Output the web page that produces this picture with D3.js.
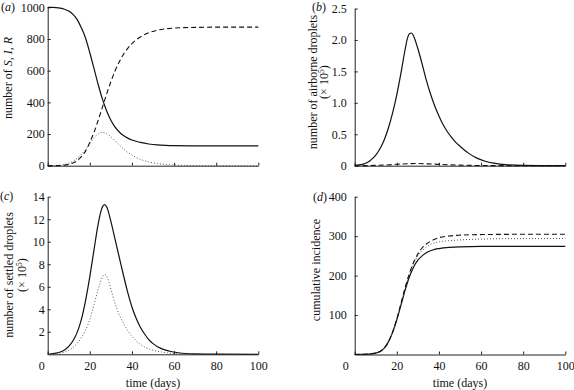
<!DOCTYPE html>
<html>
<head>
<meta charset="utf-8">
<script src="https://cdnjs.cloudflare.com/ajax/libs/d3/7.8.5/d3.min.js"></script>
<style>
  html, body { margin: 0; padding: 0; background: #fff; }
  svg { display: block; }
  text { font-family: "Liberation Serif", "Times New Roman", serif; fill: #111; }
</style>
</head>
<body>
<svg id="chart" width="574" height="390"></svg>
<script>
// ---------- data ----------
// panel (a): S, I, R
const timeA = [0,2,4,6,8,10,12,14,16,18,20,22,24,26,28,30,32,34,36,38,40,44,48,52,56,60,70,80,100];
const susceptible = [1000,999.5,998.5,995,988,976,955,922,870,805,713,613,511,420,345,287,244,213,190,174,162,147,137,131,128,126.5,125.5,125,125];
const infected    = [0.5,1,1.8,4,8.5,15.5,28,46,72,103,139,176,201,210,202,183,157,131,106,85,67,40,24,14,8,4.6,1.2,0.3,0];
const recovered   = [0,0.2,0.6,1.5,3.5,8.5,17,32,58,92,148,211,288,370,453,530,599,656,704,741,771,813,839,855,864,869,873,874.7,875];

// panel (b): airborne droplets (x 10^5)
const timeB = [0,2,4,6,8,10,12,14,16,18,20,22,24,25,26,27,28,30,32,34,36,38,40,42,44,46,48,50,54,58,62,66,70,80,90,100];
const airborneSolid = [0.005,0.012,0.025,0.05,0.1,0.17,0.27,0.41,0.6,0.84,1.13,1.48,1.86,2.02,2.1,2.11,2.06,1.86,1.62,1.36,1.14,0.95,0.79,0.65,0.54,0.45,0.37,0.31,0.2,0.12,0.07,0.04,0.02,0.004,0.001,0];
const timeBd = [0,5,10,15,20,25,30,35,40,45,50,60,70,100];
const airborneDashed = [0,0.001,0.005,0.012,0.022,0.031,0.034,0.029,0.021,0.014,0.009,0.003,0.001,0];

// panel (c): settled droplets (x 10^5)
const timeC = [0,2,4,6,8,10,12,14,16,18,20,22,24,25,26,27,28,30,32,34,36,38,40,42,44,46,48,50,54,58,62,66,70,80,100];
const settledSolid  = [0.02,0.05,0.1,0.2,0.38,0.7,1.2,1.95,3.1,4.8,6.9,9.3,11.6,12.5,13.1,13.3,13.1,11.8,10.2,8.6,7.0,5.5,4.2,3.2,2.4,1.8,1.3,0.95,0.5,0.27,0.14,0.07,0.04,0.01,0];
const settledDotted = [0.01,0.02,0.05,0.1,0.2,0.35,0.6,0.95,1.5,2.15,3.1,4.4,5.8,6.4,6.9,7.1,6.95,5.8,4.5,3.5,2.75,2.1,1.6,1.2,0.88,0.65,0.48,0.36,0.2,0.1,0.05,0.025,0.01,0.002,0];

// panel (d): cumulative incidence
const timeD = [0,4,8,10,12,14,16,18,20,22,24,26,28,30,32,34,36,38,40,45,50,60,70,100];
const cumulativeSolid  = [0,0.5,1.8,3.5,7.5,16,32,56,88,126,164,197,222,239,250,258,263,266.5,268.5,271.5,273,274,274,274];
const cumulativeDashed = [0,0.5,1.8,3.5,7.5,16,32,57,90,130,171,206,234,255,270,280,287,292,296,300.5,302.5,304,304.5,305];
const cumulativeDotted = [0,0.5,1.8,3.5,7.5,16,32,56.5,89,128,168,203,231,250,263,272,279,283,285.5,288.5,290.5,292.5,293.5,294];

// ticks
const xTicks = [0,20,40,60,80,100];
const yTicksA = [0,200,400,600,800,1000];
const yTicksB = [0,0.5,1.0,1.5,2.0,2.5];
const yTicksC = [2,4,6,8,10,12,14];
const yTicksD = [100,200,300,400];

// ---------- drawing ----------
const svg = d3.select("#chart");
const FS = 12;

function panel(opt) {
  const x = d3.scaleLinear().domain([0,100]).range([opt.left, opt.right]);
  const y = d3.scaleLinear().domain(opt.yDomain).range([opt.bottom, opt.top]);
  const g = svg.append("g");

  const xa = d3.axisBottom(x).tickValues(xTicks).tickSizeInner(-3).tickSizeOuter(0).tickPadding(7);
  if (!opt.xLabels) xa.tickFormat("");
  const gx = g.append("g").attr("transform", `translate(0,${opt.bottom})`).call(xa);
  const ya = d3.axisLeft(y).tickValues(opt.yTicks).tickSizeInner(-3).tickSizeOuter(0)
      .tickPadding(opt.yPad).tickFormat(opt.yFormat);
  const gy = g.append("g").attr("transform", `translate(${opt.left},0)`).call(ya);
  [gx, gy].forEach(a => {
    a.attr("font-family", null);
    a.selectAll("path.domain").attr("stroke", "#222").attr("stroke-width", 1);
    a.selectAll(".tick line").attr("stroke", "#222");
    a.selectAll(".tick text").style("font-family", '"Liberation Serif", serif')
      .style("font-size", FS + "px").attr("fill", "#111");
  });
  if (opt.xLabels) {
    gx.selectAll(".tick text").filter(d => d === 0).attr("dx", opt.zeroShift);
  }

  const line = d3.line().x(d => x(d[0])).y(d => y(d[1])).curve(d3.curveMonotoneX);
  opt.series.forEach(s => {
    const pts = s.t.map((t, i) => [t, s.v[i]]);
    g.append("path").attr("d", line(pts)).attr("fill", "none")
      .attr("stroke", s.color).attr("stroke-width", s.width)
      .attr("stroke-dasharray", s.dash || null);
  });

  const lab = g.append("text").attr("x", opt.letterX).attr("y", opt.letterY).style("font-size", FS + "px");
  lab.append("tspan").text("(");
  lab.append("tspan").attr("font-style", "italic").text(opt.letter);
  lab.append("tspan").text(")");

  return { g, x, y };
}

const solid  = (t, v) => ({ t, v, color: "#111", width: 1.2 });
const dashed = (t, v) => ({ t, v, color: "#111", width: 1.1, dash: "5,3" });
const dotted = (t, v) => ({ t, v, color: "#555", width: 1, dash: "1,2" });

// (a)
panel({
  left: 47.7, right: 258.3, top: 7.3, bottom: 165.7, yDomain: [0,1000],
  yTicks: yTicksA, yFormat: d3.format("d"), yPad: 3, xLabels: false,
  letter: "a", letterX: 1, letterY: 11,
  series: [solid(timeA, susceptible), dotted(timeA, infected), dashed(timeA, recovered)]
});
{
  const t = svg.append("text").attr("transform", "translate(12,78) rotate(-90)")
    .attr("text-anchor", "middle").style("font-size", FS + "px");
  t.append("tspan").text("number of ");
  t.append("tspan").attr("font-style", "italic").text("S");
  t.append("tspan").text(", ");
  t.append("tspan").attr("font-style", "italic").text("I");
  t.append("tspan").text(", ");
  t.append("tspan").attr("font-style", "italic").text("R");
}

// (b)
panel({
  left: 354.7, right: 565.3, top: 8.5, bottom: 165.7, yDomain: [0,2.5],
  yTicks: yTicksB, yFormat: d => d === 0 ? "0" : d3.format(".1f")(d), yPad: 8, xLabels: false,
  letter: "b", letterX: 312, letterY: 11,
  series: [solid(timeB, airborneSolid), dashed(timeBd, airborneDashed)]
});

function twoLineTitle(cx, cy, line1, gap) {
  svg.append("text").attr("transform", `translate(${cx},${cy}) rotate(-90)`)
    .attr("text-anchor", "middle").style("font-size", FS + "px").text(line1);
  const t2 = svg.append("text").attr("transform", `translate(${cx + gap},${cy}) rotate(-90)`)
    .attr("text-anchor", "middle").style("font-size", FS + "px");
  t2.append("tspan").text("(× 10");
  t2.append("tspan").attr("dy", -4).style("font-size", "8px").text("5");
  t2.append("tspan").attr("dy", 4).text(")");
}
twoLineTitle(317, 82, "number of airborne droplets", 10.5);

// (c)
panel({
  left: 47.7, right: 258.3, top: 196.7, bottom: 354.3, yDomain: [0,14],
  yTicks: yTicksC, yFormat: d3.format("d"), yPad: 3, xLabels: true, zeroShift: -6.5,
  letter: "c", letterX: 0, letterY: 200,
  series: [solid(timeC, settledSolid), dotted(timeC, settledDotted)]
});
twoLineTitle(13, 275, "number of settled droplets", 13);
svg.append("text").attr("x", 153).attr("y", 387).attr("text-anchor", "middle")
  .style("font-size", FS + "px").text("time (days)");

// (d)
panel({
  left: 354.7, right: 565.3, top: 196.7, bottom: 354.5, yDomain: [0,400],
  yTicks: yTicksD, yFormat: d3.format("d"), yPad: 8, xLabels: true, zeroShift: -9.5,
  letter: "d", letterX: 313, letterY: 201,
  series: [solid(timeD, cumulativeSolid), dotted(timeD, cumulativeDotted), dashed(timeD, cumulativeDashed)]
});
svg.append("text").attr("transform", "translate(320,270) rotate(-90)")
  .attr("text-anchor", "middle").style("font-size", FS + "px").text("cumulative incidence");
svg.append("text").attr("x", 460).attr("y", 387).attr("text-anchor", "middle")
  .style("font-size", FS + "px").text("time (days)");
</script>
</body>
</html>
